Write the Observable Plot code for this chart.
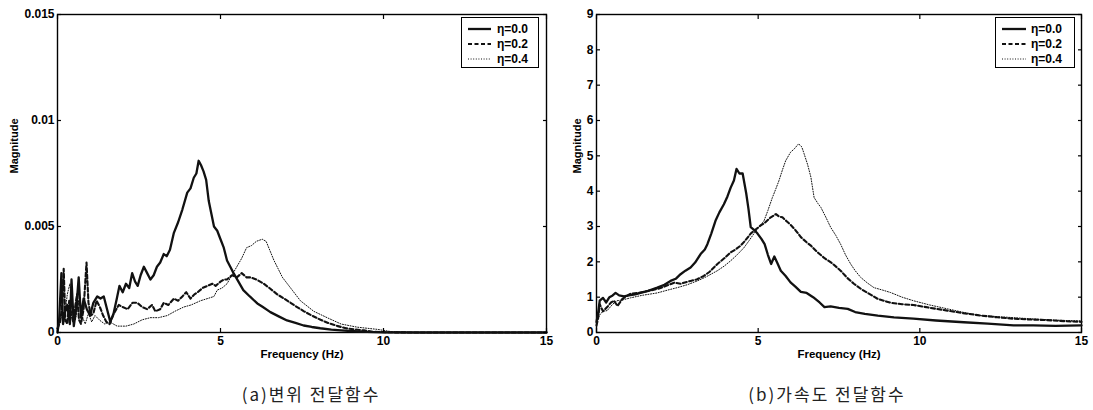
<!DOCTYPE html>
<html>
<head>
<meta charset="utf-8">
<script src="https://cdn.jsdelivr.net/npm/d3@7"></script>
<script src="https://cdn.jsdelivr.net/npm/@observablehq/plot@0.6"></script>
<style>
  html, body { margin: 0; padding: 0; background: #fff; }
  #wrap { position: relative; width: 1093px; height: 410px; overflow: hidden; background: #fff;
          font-family: "Liberation Sans", Arial, sans-serif; }
  .panel { position: absolute; top: 0; overflow: visible; }
  .legend { position: absolute; box-sizing: border-box; border: 1.5px solid #000; background: #fff; }
  .legend .row { position: absolute; left: 0; height: 14px; display: flex; align-items: center; }
  .legend .row span { font-size: 12px; font-weight: bold; color: #000; line-height: 14px; }
  .caption { position: absolute; font-family: "Noto Sans CJK KR", sans-serif; font-size: 17px;
             letter-spacing: 2px; line-height: 1; color: #222; white-space: nowrap; transform: translateX(-50%); }
</style>
</head>
<body>
<div id="wrap"></div>
<script>
// ---------- data ----------
const xTicks = [0, 5, 10, 15];
const dispTicks = [0, 0.005, 0.01, 0.015];
const accTicks = [0, 1, 2, 3, 4, 5, 6, 7, 8, 9];
const etaLabels = ["η=0.0", "η=0.2", "η=0.4"];
const captions = ["(a)변위 전달함수", "(b)가속도 전달함수"];

// (a) displacement transfer function
const dispF0 = [0,0.05,0.12,0.17,0.22,0.3,0.38,0.43,0.5,0.58,0.65,0.72,0.8,0.9,1.0,1.1,1.22,1.32,1.42,1.52,1.62,1.72,1.82,1.9,2.0,2.1,2.2,2.29,2.38,2.46,2.55,2.65,2.75,2.85,2.95,3.05,3.15,3.26,3.35,3.45,3.57,3.7,3.83,3.98,4.08,4.18,4.26,4.33,4.4,4.48,4.56,4.64,4.72,4.8,4.9,5.0,5.1,5.2,5.3,5.4,5.55,5.7,5.9,6.13,6.3,6.53,6.8,7.04,7.3,7.55,7.8,8.06,8.4,8.7,9.1,9.5,10,11,12,13,14,15];
const dispM0 = [0,0.0006,0.0028,0.0004,0.0009,0.0013,0.0004,0.0025,0.0003,0.0012,0.0026,0.0007,0.0016,0.0011,0.0008,0.0014,0.0017,0.0016,0.0017,0.0011,0.0005,0.0009,0.0016,0.0022,0.0019,0.0023,0.0021,0.0028,0.0024,0.0022,0.0027,0.0031,0.0028,0.0025,0.0027,0.0031,0.0033,0.0037,0.0036,0.0039,0.0047,0.0052,0.0058,0.0066,0.0068,0.0073,0.0075,0.0081,0.0079,0.0076,0.0072,0.0062,0.0056,0.005,0.0048,0.0044,0.004,0.0034,0.0031,0.0028,0.0024,0.002,0.0017,0.00137,0.0012,0.00096,0.00075,0.00057,0.00045,0.00033,0.00026,0.0002,0.00014,0.0001,0.00006,0.00003,0.00001,0,0,0,0,0];

const dispF2 = [0,0.08,0.14,0.19,0.24,0.3,0.36,0.42,0.48,0.55,0.6,0.66,0.72,0.8,0.89,0.95,1.02,1.1,1.2,1.3,1.4,1.5,1.6,1.73,1.88,2.0,2.15,2.3,2.45,2.6,2.75,2.9,3.0,3.15,3.26,3.4,3.57,3.7,3.83,3.95,4.08,4.2,4.3,4.45,4.6,4.75,4.85,5.0,5.1,5.2,5.35,5.5,5.65,5.8,5.92,6.1,6.33,6.5,6.74,6.95,7.15,7.35,7.56,7.8,8.07,8.3,8.6,8.85,9.1,9.4,9.7,10.2,11,12,13,14,15];
const dispM2 = [0.0002,0.0005,0.0012,0.003,0.0006,0.0004,0.0015,0.0009,0.0005,0.0013,0.0018,0.0006,0.0004,0.0011,0.0033,0.0014,0.0008,0.0009,0.0015,0.0012,0.0008,0.0005,0.0004,0.0009,0.0013,0.0012,0.0011,0.0014,0.0014,0.0012,0.0011,0.0013,0.001,0.0011,0.0014,0.0013,0.0016,0.0015,0.0017,0.0019,0.0016,0.0018,0.0019,0.0021,0.0022,0.0023,0.0022,0.0024,0.0025,0.0025,0.0027,0.0026,0.0028,0.0026,0.0026,0.0025,0.0023,0.0021,0.0018,0.0016,0.0014,0.0012,0.001,0.0008,0.0006,0.00045,0.0003,0.0002,0.00015,0.0001,0.00003,0.00001,0,0,0,0,0];

const dispF4 = [0,0.1,0.2,0.3,0.38,0.45,0.55,0.65,0.75,0.85,0.95,1.05,1.15,1.3,1.45,1.6,1.83,2.1,2.34,2.6,2.85,3.1,3.37,3.6,3.87,4.1,4.39,4.6,4.8,4.9,5.05,5.2,5.35,5.5,5.65,5.8,5.95,6.1,6.28,6.4,6.48,6.64,6.9,7.2,7.45,7.86,8.27,8.7,9.2,9.8,10.2,10.6,11,12,13,14,15];
const dispM4 = [0.0003,0.0008,0.0005,0.0018,0.0023,0.0012,0.0006,0.0015,0.0008,0.0004,0.0009,0.0005,0.0008,0.00057,0.0004,0.0005,0.0003,0.0003,0.0004,0.0006,0.0007,0.0007,0.0008,0.001,0.0012,0.0013,0.0015,0.0016,0.0017,0.002,0.0021,0.0023,0.0027,0.0031,0.0035,0.004,0.0041,0.0043,0.0044,0.0043,0.004,0.0034,0.0026,0.002,0.0015,0.001,0.0007,0.0004,0.00025,0.00015,0.00005,0.00002,0,0,0,0,0];

// (b) acceleration transfer function
const accF0 = [0,0.05,0.1,0.2,0.3,0.4,0.5,0.59,0.7,0.85,1.0,1.2,1.36,1.6,1.88,2.1,2.29,2.45,2.6,2.75,2.91,3.05,3.22,3.35,3.43,3.55,3.68,3.8,3.94,4.05,4.15,4.25,4.33,4.42,4.52,4.63,4.7,4.77,4.88,4.98,5.1,5.2,5.3,5.4,5.5,5.6,5.7,5.85,6.0,6.15,6.32,6.5,6.7,6.9,7.05,7.24,7.5,7.77,8.0,8.3,8.7,9.2,9.8,10.5,11.36,12.1,12.9,13.5,14.2,15];
const accM0 = [0.3,0.55,0.9,0.98,0.85,1.0,1.05,1.12,1.05,1.02,1.05,1.08,1.12,1.18,1.27,1.35,1.46,1.52,1.65,1.75,1.84,1.98,2.22,2.35,2.5,2.8,3.16,3.4,3.63,3.85,4.1,4.3,4.63,4.5,4.5,3.94,3.5,2.98,2.9,2.8,2.65,2.5,2.2,1.94,2.15,1.95,1.75,1.6,1.42,1.3,1.15,1.12,1.0,0.85,0.72,0.74,0.7,0.67,0.58,0.53,0.48,0.43,0.39,0.34,0.29,0.25,0.2,0.2,0.19,0.2];

const accF2 = [0,0.05,0.1,0.2,0.33,0.45,0.54,0.65,0.8,1.05,1.3,1.6,1.88,2.1,2.4,2.6,2.91,3.1,3.32,3.5,3.74,3.95,4.15,4.3,4.46,4.6,4.77,4.9,5.08,5.2,5.39,5.55,5.65,5.75,5.88,6.0,6.15,6.32,6.5,6.63,6.8,7.03,7.3,7.55,7.75,7.96,8.2,8.37,8.7,9.1,9.45,9.8,10.3,10.85,11.4,11.88,12.4,12.9,13.4,13.95,14.5,15];
const accM2 = [0.2,0.4,0.8,0.6,0.72,0.85,0.9,0.75,0.95,1.1,1.12,1.18,1.23,1.3,1.41,1.38,1.46,1.5,1.6,1.72,1.94,2.1,2.27,2.35,2.46,2.6,2.8,2.9,3.03,3.1,3.26,3.35,3.28,3.26,3.15,3.05,2.9,2.7,2.55,2.46,2.3,2.12,1.95,1.75,1.55,1.38,1.22,1.13,0.95,0.84,0.8,0.78,0.7,0.62,0.54,0.48,0.43,0.39,0.37,0.35,0.32,0.3];

const accF4 = [0,0.1,0.2,0.33,0.5,0.64,0.8,1.05,1.4,1.88,2.2,2.5,2.8,3.12,3.4,3.74,3.95,4.15,4.35,4.56,4.72,4.87,5.02,5.18,5.3,5.44,5.54,5.64,5.75,5.85,6.0,6.12,6.25,6.35,6.42,6.53,6.63,6.73,6.85,6.94,7.1,7.24,7.4,7.55,7.7,7.86,8.0,8.17,8.38,8.58,8.85,9.1,9.45,9.8,10.3,10.85,11.35,11.88,12.4,12.9,13.4,13.95,14.5,15];
const accM4 = [0.3,0.5,0.6,0.62,0.8,0.9,0.92,0.98,1.05,1.12,1.2,1.27,1.35,1.46,1.58,1.75,1.88,2.03,2.2,2.4,2.6,2.8,2.98,3.16,3.45,3.82,4.05,4.29,4.6,4.86,5.1,5.2,5.34,5.25,5.06,4.75,4.4,3.82,3.65,3.54,3.25,2.98,2.75,2.5,2.2,1.94,1.75,1.56,1.4,1.27,1.2,1.13,1.0,0.9,0.78,0.67,0.57,0.48,0.45,0.42,0.39,0.36,0.34,0.33];

// ---------- styles ----------
const lineStyles = [
  { w: 2.3, dash: null },
  { w: 2.1, dash: "4,2.5" },
  { w: 1.0, dash: "1,1.6" }
];

function makePanel({ freqs, mags, yDomain, yTicks, yFormat, width, marginLeft, marginRight, labelDx }) {
  const marks = [Plot.frame({ stroke: "#000", strokeWidth: 1.4 })];
  freqs.forEach((fs, k) => {
    const rows = fs.map((f, i) => ({ f, m: mags[k][i] }));
    marks.push(Plot.line(rows, {
      x: "f", y: "m", stroke: "#111", strokeWidth: lineStyles[k].w,
      strokeDasharray: lineStyles[k].dash, strokeLinejoin: "round"
    }));
  });
  marks.push(
    Plot.axisX({ ticks: xTicks, tickSize: -4, fill: "none", label: null, strokeWidth: 1.2 }),
    Plot.axisX({ anchor: "top", ticks: xTicks, tickSize: -4, fill: "none", label: null, strokeWidth: 1.2 }),
    Plot.axisY({ ticks: yTicks, tickSize: -4, fill: "none", label: null, strokeWidth: 1.2 }),
    Plot.axisY({ anchor: "right", ticks: yTicks, tickSize: -4, fill: "none", label: null, strokeWidth: 1.2 }),
    Plot.axisX({ ticks: xTicks, tickSize: 0, tickPadding: 4, label: null }),
    Plot.axisY({ ticks: yTicks, tickSize: 0, tickPadding: 3, tickFormat: yFormat, label: null }),
    Plot.text(["Frequency (Hz)"], { text: d => d, frameAnchor: "bottom", dy: 25, fontSize: 11.5, fontWeight: "bold" }),
    Plot.text(["Magnitude"], { text: d => d, frameAnchor: "left", rotate: -90, dx: -labelDx, fontSize: 11, fontWeight: "bold" })
  );
  return Plot.plot({
    width, height: 370, marginLeft, marginRight, marginTop: 14, marginBottom: 38,
    x: { domain: [0, 15] },
    y: { domain: yDomain },
    style: { fontFamily: "'Liberation Sans', Arial, sans-serif", fontSize: "12px", fontWeight: "bold", color: "#000", background: "transparent", overflow: "visible" },
    marks
  });
}

const wrap = document.getElementById("wrap");

const right = makePanel({
  freqs: [accF0, accF2, accF4], mags: [accM0, accM2, accM4],
  yDomain: [0, 9], yTicks: accTicks, yFormat: d => String(d),
  width: 545, marginLeft: 48, marginRight: 12, labelDx: 19
});
right.classList.add("panel");
right.style.left = "548px";
wrap.appendChild(right);

const left = makePanel({
  freqs: [dispF0, dispF2, dispF4], mags: [dispM0, dispM2, dispM4],
  yDomain: [0, 0.015], yTicks: dispTicks, yFormat: d => (d === 0 ? "0" : String(d)),
  width: 548, marginLeft: 57, marginRight: 2, labelDx: 43
});
left.classList.add("panel");
left.style.left = "0px";
wrap.appendChild(left);

// legends
function makeLegend(boxLeft, boxWidth, lineLen, textGap) {
  const box = document.createElement("div");
  box.className = "legend";
  box.style.left = boxLeft + "px";
  box.style.top = "17px";
  box.style.width = boxWidth + "px";
  box.style.height = "51px";
  etaLabels.forEach((lab, k) => {
    const row = document.createElement("div");
    row.className = "row";
    row.style.top = (4 + k * 15) + "px";
    row.style.left = "6px";
    const svg = document.createElementNS("http://www.w3.org/2000/svg", "svg");
    svg.setAttribute("width", lineLen);
    svg.setAttribute("height", 14);
    const ln = document.createElementNS("http://www.w3.org/2000/svg", "line");
    ln.setAttribute("x1", 0); ln.setAttribute("x2", lineLen);
    ln.setAttribute("y1", 7); ln.setAttribute("y2", 7);
    ln.setAttribute("stroke", "#111");
    ln.setAttribute("stroke-width", lineStyles[k].w);
    if (lineStyles[k].dash) ln.setAttribute("stroke-dasharray", lineStyles[k].dash);
    svg.appendChild(ln);
    row.appendChild(svg);
    const sp = document.createElement("span");
    sp.textContent = lab;
    sp.style.marginLeft = textGap + "px";
    row.appendChild(sp);
    box.appendChild(row);
  });
  wrap.appendChild(box);
}
makeLegend(461, 78, 23, 6);
makeLegend(995, 80, 24, 5);

// captions
[[311, captions[0]], [827, captions[1]]].forEach(([cx, t]) => {
  const c = document.createElement("div");
  c.className = "caption";
  c.textContent = t;
  c.style.left = cx + "px";
  c.style.top = "385px";
  wrap.appendChild(c);
});
</script>
</body>
</html>
